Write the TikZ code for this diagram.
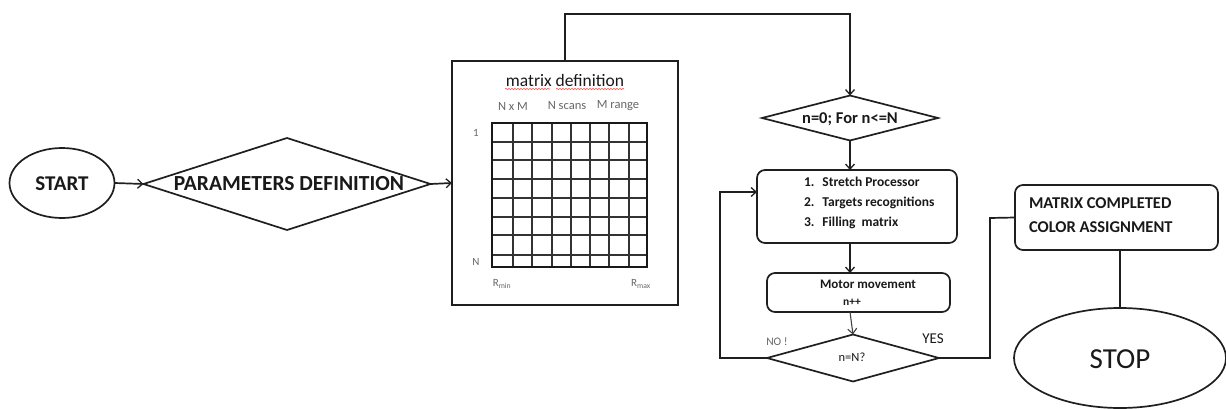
\documentclass[tikz,border=0pt]{standalone}
\usepackage{fontspec}
\setmainfont{Carlito}
\usetikzlibrary{shapes.geometric,arrows.meta,decorations.pathmorphing}
\begin{document}
\begin{tikzpicture}[x=1pt,y=-1pt,
  every node/.style={inner sep=0pt,outer sep=0pt},
  ln/.style={line width=1.7pt,draw=black!88},
  arr/.style={ln,-{Straight Barb[length=5pt,width=9pt,line width=1.3pt]}},
  thinarr/.style={line width=1.1pt,draw=black!75,-{Straight Barb[length=5pt,width=9pt,line width=1.1pt]}},
  oval/.style={ellipse,ln,fill=white},
  diam/.style={diamond,ln,fill=white},
  rbox/.style={rectangle,rounded corners=8pt,ln,fill=white},
  txt/.style={text=black!90},
  gtxt/.style={text=black!60},
  squig/.style={draw=red!70,line width=0.6pt,decorate,decoration={snake,amplitude=0.6pt,segment length=3pt}}
]
\useasboundingbox (0,0) rectangle (1226,409);

% start
\node[oval,minimum width=105pt,minimum height=70pt] (start) at (62,183) {};
\node[txt,font=\fontsize{21}{24}\selectfont\bfseries] (starttxt) at (62,184) {START};

% parameters diamond
\node[diam,minimum width=287pt,minimum height=92pt] (par) at (287,184) {};
\node[txt,font=\fontsize{21.5}{24}\selectfont\bfseries] (partxt) at (289,184) {PARAMETERS DEFINITION};

% matrix box
\node[rectangle,ln,minimum width=226pt,minimum height=244pt] (mat) at (565,183) {};
\node[txt,font=\fontsize{17.5}{20}\selectfont] (mattitle) at (565,80) {matrix definition};
\draw[squig] (505,89) -- (550,89);
\draw[squig] (556,89) -- (624,89);
\node[gtxt,font=\fontsize{12.5}{14}\selectfont] (nxm) at (513,106) {N x M};
\node[gtxt,font=\fontsize{12.5}{14}\selectfont] (nsc) at (567,106) {N scans};
\node[gtxt,font=\fontsize{12.5}{14}\selectfont] (mrg) at (618,106) {M range};
\node[gtxt,font=\fontsize{11}{13}\selectfont] (one) at (476,133) {1};
\node[gtxt,font=\fontsize{11}{13}\selectfont] (nn) at (476,262) {N};
\node[gtxt,font=\fontsize{11}{13}\selectfont] (rmin) at (502,284) {R\textsubscript{min}};
\node[gtxt,font=\fontsize{11}{13}\selectfont] (rmax) at (641,284) {R\textsubscript{max}};
% grid
\foreach \x in {513,532,552,571,590,609,629}
  \draw[line width=1.2pt,black!80] (\x,123) -- (\x,267);
\foreach \y in {142,160,179,198,217,235,255}
  \draw[line width=1.2pt,black!80] (492,\y) -- (647,\y);
\draw[line width=2pt,black!90] (492,123) rectangle (647,267);

% init diamond
\node[diam,minimum width=176pt,minimum height=45pt] (init) at (850,118) {};
\node[txt,font=\fontsize{16.5}{18}\selectfont\bfseries] (inittxt) at (850,119) {n=0; For n<=N};

% process box
\node[rbox,minimum width=200pt,minimum height=73pt] (proc) at (857,206.5) {};
\node[txt,font=\fontsize{13.5}{20}\selectfont\bfseries,anchor=west,align=left] (proctxt) at (804,203)
  {1.\hspace{8pt}Stretch Processor\\2.\hspace{8pt}Targets recognitions\\3.\hspace{8pt}Filling\ \ matrix};

% motor box
\node[rbox,minimum width=183pt,minimum height=39pt] (motor) at (858.5,292.5) {};
\node[txt,font=\fontsize{13}{14}\selectfont\bfseries] (motortxt) at (868,284) {Motor movement};
\node[txt,font=\fontsize{11.5}{13}\selectfont\bfseries] (nplus) at (852,302) {n++};

% check diamond
\node[diam,minimum width=172pt,minimum height=47pt] (check) at (853,358) {};
\node[txt,font=\fontsize{12.5}{13}\selectfont] (checktxt) at (852,357) {n=N?};
\node[gtxt,font=\fontsize{11.5}{13}\selectfont] (no) at (777,342) {NO !};
\node[txt,font=\fontsize{15}{17}\selectfont] (yes) at (933,339) {YES};

% done box
\node[rbox,minimum width=203pt,minimum height=65pt] (done) at (1116.5,217.5) {};
\node[txt,font=\fontsize{16.5}{24}\selectfont\bfseries,anchor=west,align=left] (donetxt) at (1029,215.5)
  {MATRIX COMPLETED\\COLOR ASSIGNMENT};

% stop
\node[oval,minimum width=212pt,minimum height=100pt] (stop) at (1120,358) {};
\node[txt,font=\fontsize{29}{32}\selectfont] (stoptxt) at (1120,359) {STOP};

% connectors
\draw[arr] (start.east) -- (par.west);
\draw[arr] (par.east) -- (mat.west);
\coordinate (tp) at (850,14);
\draw[arr] (mat.north) |- (tp) -- (init.north);
\draw[arr] (init.south) -- (init.south |- proc.north);
\draw[arr] (init.south |- proc.south) -- (init.south |- motor.north);
\draw[thinarr] (init.south |- motor.south) -- (check.north);
\coordinate (lp) at (720,192);
\draw[arr] (check.west) -| (lp) -- (proc.west |- lp);
\coordinate (rp) at (990,218);
\draw[ln] (check.east) -| (rp) -- (done.west);
\draw[ln] (done.south -| stop.north) -- (stop.north);
\end{tikzpicture}
\end{document}
